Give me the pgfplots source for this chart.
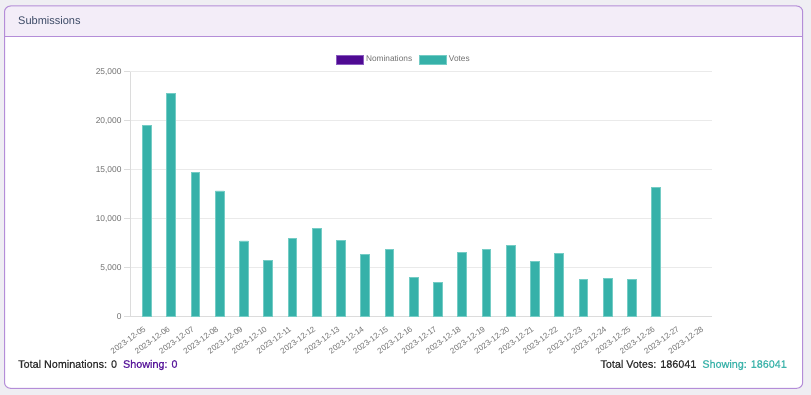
\documentclass[border=0pt]{standalone}
\usepackage{pgfplots}
\pgfplotsset{compat=1.18}
\usepackage{fontspec}
\setmainfont{Liberation Sans}
\newfontfamily\medfont[FakeBold=0.6]{Liberation Sans}
\definecolor{outerbg}{HTML}{EFEEF3}
\definecolor{headerbg}{HTML}{F3EDF8}
\definecolor{cardborder}{HTML}{B48DD8}
\definecolor{headtext}{HTML}{3C4A66}
\definecolor{tealfill}{HTML}{36B1A9}
\definecolor{tealedge}{HTML}{74CCC5}
\definecolor{nomfill}{HTML}{4F0A93}
\definecolor{nomedge}{HTML}{8A5CC0}
\definecolor{gridgray}{HTML}{EAEAEA}
\definecolor{axisgray}{HTML}{DCDCDC}
\definecolor{tickgray}{HTML}{707070}
\definecolor{darktext}{HTML}{2E2E2E}
\definecolor{showpurple}{HTML}{5A1A9C}
\definecolor{showteal}{HTML}{3DB4AB}
\pgfplotstableread{
x votes
0 19520
1 22810
2 14750
3 12830
4 7730
5 5730
6 7990
7 8970
8 7750
9 6320
10 6890
11 3980
12 3460
13 6530
14 6830
15 7300
16 5610
17 6430
18 3780
19 3880
20 3780
21 13171
22 0
23 0
}\votestable
\begin{document}
\begin{tikzpicture}[x=1pt,y=1pt]
\useasboundingbox (0,0) rectangle (811,395);
\fill[outerbg] (0,0) rectangle (811,395);
\begin{scope}
\clip[rounded corners=6pt] (4.5,6.7) rectangle (802.7,389);
\fill[white] (0,0) rectangle (811,395);
\fill[headerbg] (0,359) rectangle (811,395);
\draw[cardborder, line width=0.8pt] (0,359) -- (811,359);
\end{scope}
\draw[cardborder, line width=1pt, rounded corners=6pt] (4.5,6.7) rectangle (802.7,389);
\node[anchor=west, inner sep=0pt, font=\fontsize{11}{13}\selectfont, text=headtext] at (18,374.5) {Submissions};
\begin{axis}[
  at={(130pt,78.3pt)}, anchor=south west,
  scale only axis, width=582pt, height=245pt,
  xmin=-0.5, xmax=23.5, ymin=0, ymax=25000,
  ytick={0,5000,10000,15000,20000,25000},
  xtick={0,...,23},
  xticklabels={2023-12-05,2023-12-06,2023-12-07,2023-12-08,2023-12-09,2023-12-10,2023-12-11,2023-12-12,2023-12-13,2023-12-14,2023-12-15,2023-12-16,2023-12-17,2023-12-18,2023-12-19,2023-12-20,2023-12-21,2023-12-22,2023-12-23,2023-12-24,2023-12-25,2023-12-26,2023-12-27,2023-12-28},
  scaled y ticks=false,
  /pgf/number format/.cd, 1000 sep={,}, assume math mode=true, /pgfplots/.cd,
  axis x line*=bottom, axis y line*=left,
  axis line style={-, draw=axisgray, line width=0.7pt},
  ymajorgrids, grid style={draw=gridgray, line width=0.6pt},
  ytick pos=left, xtick pos=bottom,
  tick align=outside, major tick length=6pt,
  ytick style={draw=axisgray, line width=0.6pt},
  xtick style={draw=none},
  ticklabel style={font=\fontsize{8.4}{10}\selectfont, text=tickgray},
  yticklabel style={xshift=1pt},
  xticklabel style={rotate=36, anchor=north east, inner sep=1pt, yshift=-2pt, font=\fontsize{8}{9}\selectfont},
  legend columns=2,
  legend style={at={(0.5,1)}, anchor=south, xshift=-17pt, yshift=4pt, draw=none, fill=none,
    font=\fontsize{8.3}{9}\selectfont, text=tickgray,
    /tikz/every even column/.append style={column sep=5pt}},
  clip=false,
]
\addlegendimage{legend image code/.code={\draw[fill=nomfill, draw=nomedge, line width=0.8pt] (0pt,-4.2pt) rectangle (27pt,4.2pt);}}
\addlegendentry{Nominations}
\addplot[ybar, bar width=8.7pt, bar shift=4.85pt, fill=tealfill, draw=tealedge, line width=0.8pt,
  legend image code/.code={\draw[fill=tealfill, draw=tealedge, line width=0.8pt] (0pt,-4.2pt) rectangle (27pt,4.2pt);}]
  table[x=x, y=votes, restrict y to domain=1:30000] {\votestable};
\addlegendentry{Votes}
\end{axis}
\node[anchor=west, inner sep=0pt, font=\medfont\fontsize{10.8}{12}\selectfont, text=darktext] at (18,30) {Total Nominations: 0\hspace{6pt}\textcolor{showpurple}{Showing: 0}};
\node[anchor=east, inner sep=0pt, font=\medfont\fontsize{10.8}{12}\selectfont, text=darktext] at (787,30) {Total Votes: 186041\hspace{6pt}\textcolor{showteal}{Showing: 186041}};
\end{tikzpicture}
\end{document}
